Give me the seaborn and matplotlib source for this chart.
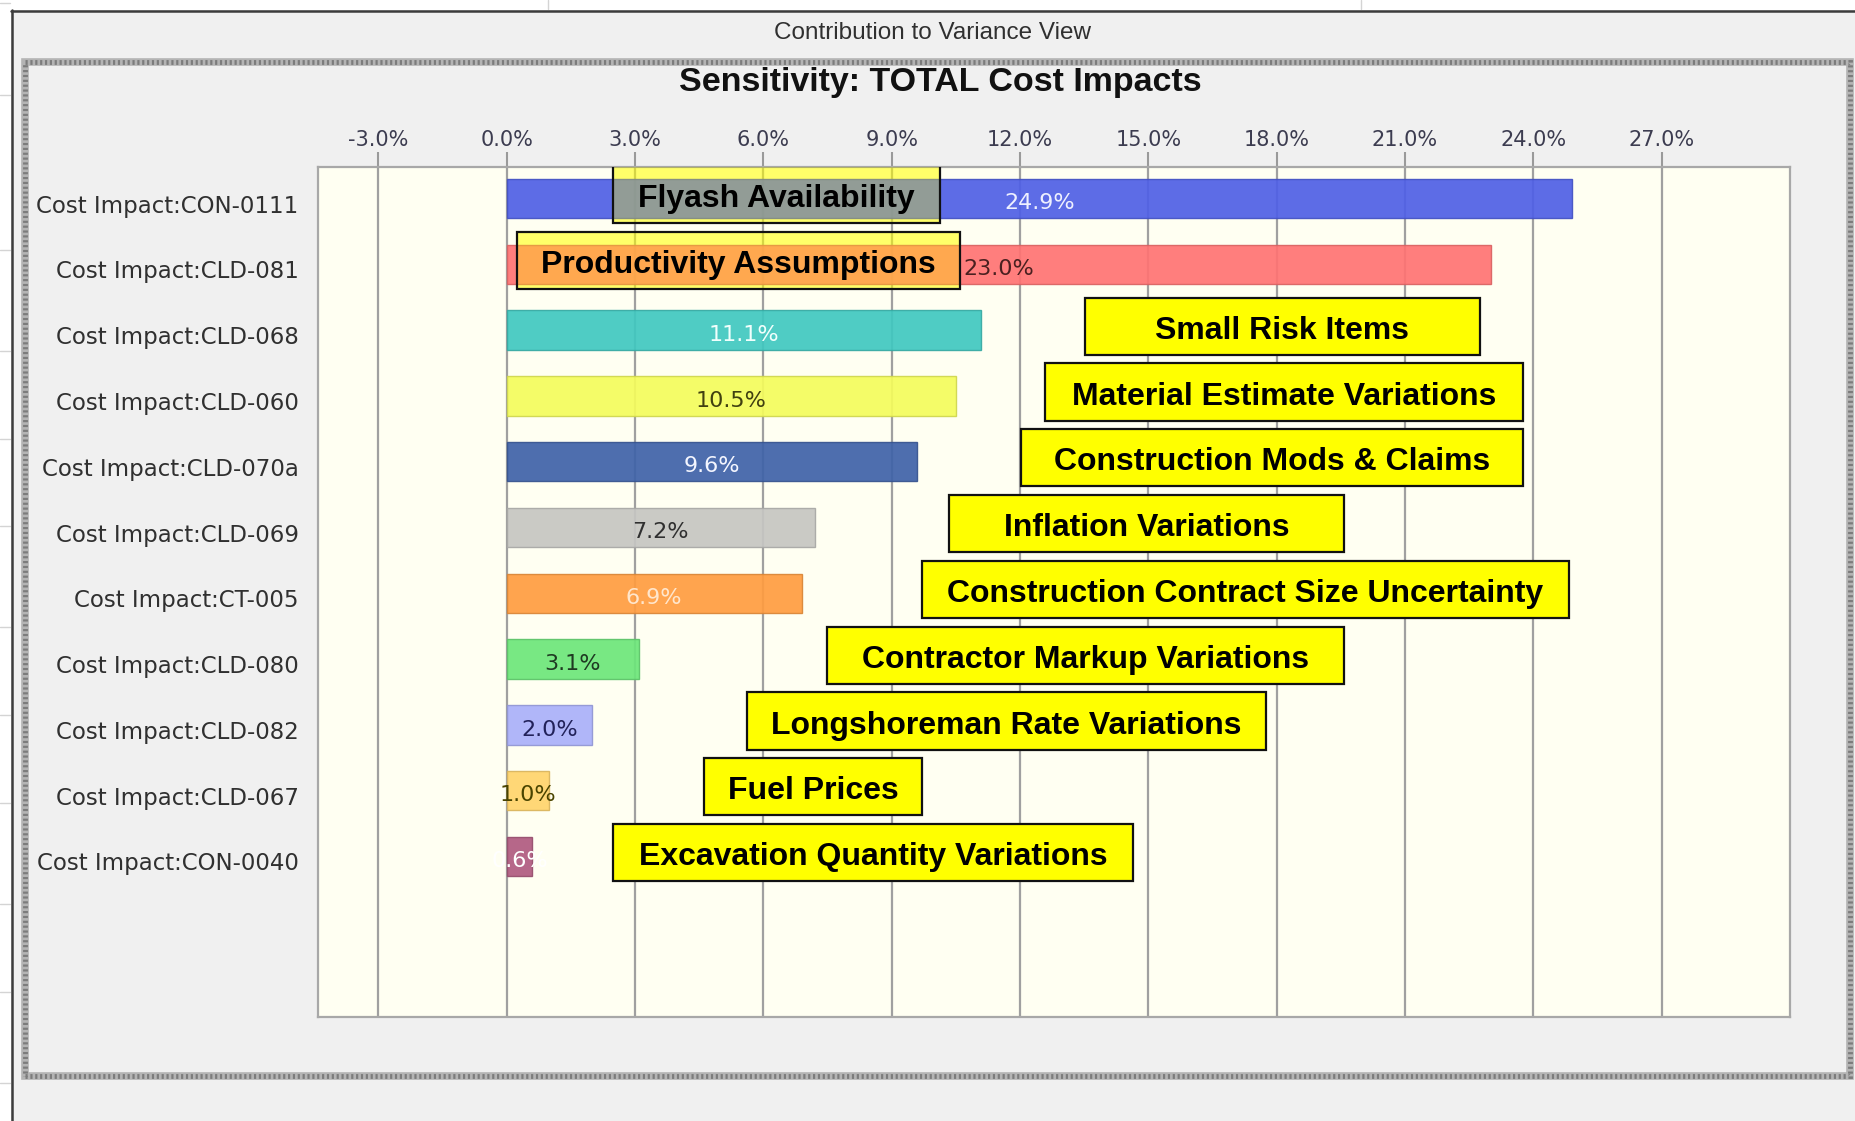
"""
Contribution to Variance View - sensitivity of TOTAL Cost Impacts,
horizontal bars with the risk-name callouts drawn over them.
"""

import numpy as np
import pandas as pd
import matplotlib
matplotlib.use("Agg")
import matplotlib.pyplot as plt
import seaborn as sns
from matplotlib.patches import Rectangle
from matplotlib.lines import Line2D
from matplotlib.ticker import FuncFormatter
from matplotlib.colors import to_rgb
from matplotlib.transforms import ScaledTranslation

# ---- data -------------------------------------------------------------
risk_ids = [
    "Cost Impact:CON-0111", "Cost Impact:CLD-081", "Cost Impact:CLD-068",
    "Cost Impact:CLD-060", "Cost Impact:CLD-070a", "Cost Impact:CLD-069",
    "Cost Impact:CT-005", "Cost Impact:CLD-080", "Cost Impact:CLD-082",
    "Cost Impact:CLD-067", "Cost Impact:CON-0040",
]
contribution = [24.9, 23.0, 11.1, 10.5, 9.6, 7.2, 6.9, 3.1, 2.0, 1.0, 0.6]
risk_names = [
    "Flyash Availability", "Productivity Assumptions", "Small Risk Items",
    "Material Estimate Variations", "Construction Mods & Claims",
    "Inflation Variations", "Construction Contract Size Uncertainty",
    "Contractor Markup Variations", "Longshoreman Rate Variations",
    "Fuel Prices", "Excavation Quantity Variations",
]
x_ticks = [-3, 0, 3, 6, 9, 12, 15, 18, 21, 24, 27]

# ---- styles / layout ----------------------------------------------------
bar_colors = ["#4f5fe6", "#ff7373", "#40c8c0", "#f4fc5c", "#3f62a8", "#c6c6c2",
              "#ff9c40", "#6ce67a", "#aab0fa", "#ffd46c", "#b05a80"]
value_colors = ["#eef0ff", "#4a2020", "#f0fffc", "#404010", "#f4f6ff", "#303030",
                "#ffe6cc", "#1f3a22", "#22225a", "#4a4400", "#ffffff"]
# callout box extents along the value axis (in %), one per row
callout_spans = [(2.49, 10.14), (0.25, 10.59), (13.52, 22.75), (12.58, 23.75),
                 (12.03, 23.75), (10.34, 19.57), (9.70, 24.83), (7.49, 19.57),
                 (5.61, 17.75), (4.62, 9.70), (2.49, 14.65)]
see_through = [True, True] + [False] * 9

W, H = 1855, 1121
BG = "#f0f0f0"


def fx(px):
    return px / W


def fy(py):
    return 1 - py / H


def darker(c, f=0.8):
    r, g, b = to_rgb(c)
    return (r * f, g * f, b * f)


df = pd.DataFrame({"risk": risk_ids, "pct": contribution})

sns.set_style("white")
plt.rcParams["font.family"] = ["DejaVu Sans"]

fig = plt.figure(figsize=(W / 100, H / 100), dpi=100, facecolor=BG)

# ---- window chrome -----------------------------------------------------
fig.add_artist(Rectangle((0, fy(10)), 1, 10 / H, transform=fig.transFigure,
                         facecolor="white", edgecolor="none", zorder=0))
fig.add_artist(Rectangle((0, 0), fx(11), 1, transform=fig.transFigure,
                         facecolor="white", edgecolor="none", zorder=0))
for xp in [548, 1361]:
    fig.add_artist(Line2D([fx(xp), fx(xp)], [fy(0), fy(9)], transform=fig.transFigure,
                          color="#d4d4d4", lw=1))
for yp in [3, 95, 250, 351, 439, 526, 627, 715, 803, 904, 992, 1083]:
    fig.add_artist(Line2D([0, fx(10)], [fy(yp), fy(yp)], transform=fig.transFigure,
                          color="#d4d4d4", lw=1))
fig.add_artist(Line2D([fx(11), 1], [fy(10.5), fy(10.5)], transform=fig.transFigure,
                      color="#3c3c3c", lw=1.8))
fig.add_artist(Line2D([fx(11.5), fx(11.5)], [fy(10), 0], transform=fig.transFigure,
                      color="#3c3c3c", lw=1.8))

# dotted inner panel
px0, py0, px1, py1 = 25, 62, 1850, 1076
fig.add_artist(Rectangle((fx(px0), fy(py1)), fx(px1) - fx(px0), fy(py0) - fy(py1),
                         transform=fig.transFigure, facecolor="none",
                         edgecolor="#b4b4b4", lw=5.5))
fig.add_artist(Rectangle((fx(px0), fy(py1)), fx(px1) - fx(px0), fy(py0) - fy(py1),
                         transform=fig.transFigure, facecolor="none",
                         edgecolor="#7c7c7c", lw=3.5, linestyle=(0, (0.45, 0.55))))

fig.text(fx(932), fy(33), "Contribution to Variance View", ha="center", va="center",
         fontsize=17.5, color="#303030", family="Liberation Sans")
fig.text(fx(940), fy(83), "Sensitivity: TOTAL Cost Impacts", ha="center", va="center",
         fontsize=24.5, fontweight="bold", color="#111111", family="Liberation Sans")

# ---- plot ---------------------------------------------------------------
ax = fig.add_axes([fx(318), fy(1017), fx(1790) - fx(318), fy(167) - fy(1017)])
ax.set_facecolor("#fffff2")

sns.barplot(data=df, x="pct", y="risk", hue="risk", palette=bar_colors,
            orient="h", width=0.6, saturation=1, legend=False, ax=ax, zorder=3)
for patch, col in zip(ax.patches, bar_colors):
    patch.set_edgecolor(darker(col, 0.85))
    patch.set_linewidth(1.0)
    patch.set_alpha(0.92)

ax.set_xlim(-4.41, 30.0)
ax.set_ylim(len(risk_ids) - 1 + 2.44, -0.48)
ax.set_xticks(x_ticks)
ax.xaxis.set_major_formatter(FuncFormatter(lambda v, _: f"{v:.1f}%"))
ax.xaxis.tick_top()
ax.tick_params(axis="x", top=True, bottom=False, length=11, width=1.5,
               color="#9a9a9a", pad=1, labelsize=15, labelcolor="#3c3c50")
ax.tick_params(axis="y", left=False, length=0, pad=14, labelsize=16.5,
               labelcolor="#303030")
# y labels sit a little below the bar centres in the original
shift = ScaledTranslation(0, -5 / 100, fig.dpi_scale_trans)
for lab in ax.get_yticklabels():
    lab.set_transform(lab.get_transform() + shift)
ax.set_xlabel("")
ax.set_ylabel("")
ax.grid(axis="x", color="#a0a0a0", lw=1.6, zorder=1)
ax.grid(axis="y", visible=False)
ax.set_axisbelow(True)
for sp in ax.spines.values():
    sp.set_visible(True)
    sp.set_color("#a8a8a8")
    sp.set_linewidth(1.6)

# value labels
for i, (v, c) in enumerate(zip(contribution, value_colors)):
    ax.text(v / 2, i + 0.07, f"{v:.1f}%", ha="center", va="center",
            fontsize=16, color=c, zorder=6)

# callout boxes with risk names
for i, (name, (lo, hi), glass) in enumerate(zip(risk_names, callout_spans, see_through)):
    h = 0.87
    y0 = i - 0.06 - h / 2
    if glass:
        # box looks opaque yellow over the background, translucent over the bar
        ax.add_patch(Rectangle((lo, y0), hi - lo, h, facecolor=(1, 1, 0, 0.35),
                               edgecolor="none", zorder=2))
        ax.add_patch(Rectangle((lo, y0), hi - lo, h, facecolor=(1, 1, 0, 0.33),
                               edgecolor="#111111", lw=1.6, zorder=4))
    else:
        ax.add_patch(Rectangle((lo, y0), hi - lo, h, facecolor="#ffff00",
                               edgecolor="#111111", lw=1.6, zorder=4))
    ax.text((lo + hi) / 2, i + 0.01, name, ha="center", va="center",
            fontsize=23, fontweight="bold", color="black",
            family="Liberation Sans", zorder=5)

fig.savefig("out.png", dpi=100, facecolor=fig.get_facecolor())
